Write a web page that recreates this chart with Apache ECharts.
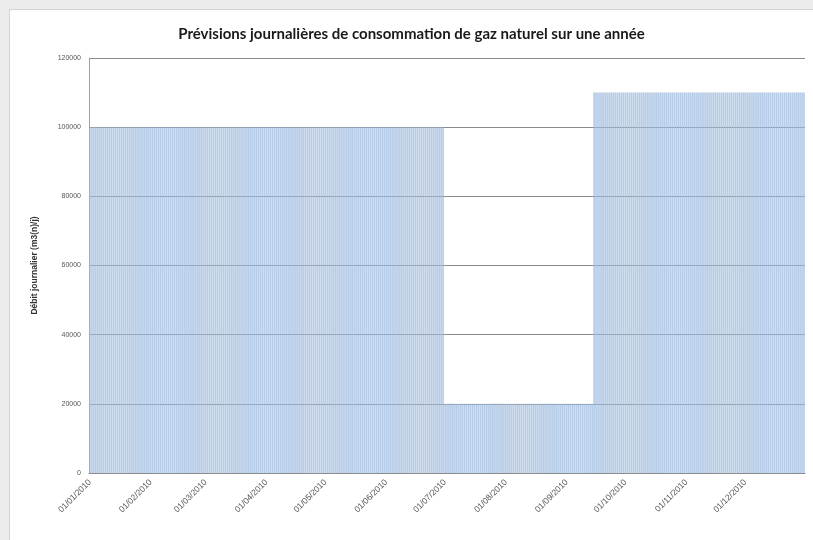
<!DOCTYPE html>
<html>
<head>
<meta charset="utf-8">
<script src="https://cdn.jsdelivr.net/npm/echarts@6/dist/echarts.min.js"></script>
<style>
  html, body { margin: 0; padding: 0; width: 813px; height: 540px; background: #ececec; overflow: hidden; }
  #chart { position: absolute; left: 9px; top: 9px; width: 804px; height: 531px; background: #ffffff; border-top: 1px solid #d4d4d4; border-left: 1px solid #d4d4d4; box-sizing: border-box; }
</style>
</head>
<body>
<div id="chart"></div>
<script>
// Periods of constant daily forecast (start date of each period, dd/mm/yyyy)
const periodStarts = ['01/01/2010', '01/07/2010', '15/09/2010'];
const periodValues = [100000, 20000, 110000];
const yearStart = '01/01/2010';
const yearEnd = '31/12/2010';
const titleText = 'Prévisions journalières de consommation de gaz naturel sur une année';
const yAxisName = 'Débit journalier (m3(n)/j)';

function parseDate(s) {
  const p = s.split('/');
  return new Date(Date.UTC(+p[2], +p[1] - 1, +p[0]));
}
function fmt(d) {
  const dd = String(d.getUTCDate()).padStart(2, '0');
  const mm = String(d.getUTCMonth() + 1).padStart(2, '0');
  return dd + '/' + mm + '/' + d.getUTCFullYear();
}

const days = [];
const values = [];
const starts = periodStarts.map(parseDate);
for (let d = parseDate(yearStart); d <= parseDate(yearEnd); d = new Date(d.getTime() + 86400000)) {
  days.push(fmt(d));
  let v = periodValues[0];
  for (let k = 0; k < starts.length; k++) if (d >= starts[k]) v = periodValues[k];
  values.push(v);
}

const chart = echarts.init(document.getElementById('chart'));
chart.setOption({
  animation: false,
  title: {
    text: titleText,
    left: 'center',
    top: 12,
    textStyle: { fontFamily: 'Lato', fontWeight: 'bold', fontSize: 15, color: '#1a1a1a' }
  },
  grid: { left: 79, top: 48, right: 8, bottom: 67, containLabel: false },
  xAxis: {
    type: 'category',
    data: days,
    boundaryGap: true,
    axisLine: { show: true, lineStyle: { color: '#8c8c8c', width: 1 } },
    axisTick: { show: false },
    axisLabel: {
      interval: function (idx, val) { return val.slice(0, 2) === '01'; },
      rotate: 45,
      fontSize: 8.5,
      color: '#555',
      fontFamily: 'Liberation Sans',
      margin: 8
    },
    splitLine: { show: false }
  },
  yAxis: {
    type: 'value',
    min: 0,
    max: 120000,
    interval: 20000,
    name: yAxisName,
    nameLocation: 'middle',
    nameRotate: 90,
    nameGap: 50,
    nameTextStyle: { fontFamily: 'Liberation Sans', fontWeight: 'bold', fontSize: 8.5, color: '#333' },
    axisLine: { show: true, lineStyle: { color: '#a0a0a0' } },
    axisTick: { show: false },
    axisLabel: { fontSize: 7, color: '#555', fontFamily: 'Liberation Sans', margin: 8, formatter: function (v) { return String(v); } },
    splitLine: { show: true, lineStyle: { color: '#8a8a8a', width: 1 } }
  },
  series: [{
    type: 'bar',
    data: values,
    barCategoryGap: '12%',
    itemStyle: { color: 'rgba(156,186,222,0.74)' },
    emphasis: { disabled: true }
  }]
});
</script>
</body>
</html>
